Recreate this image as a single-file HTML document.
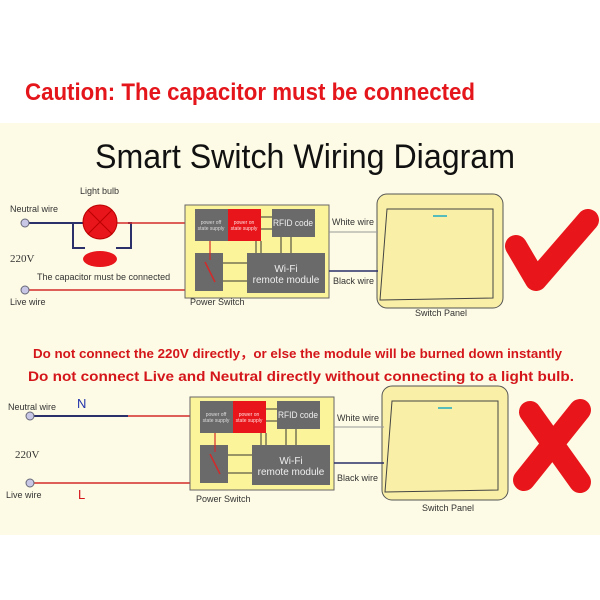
<!DOCTYPE html>
<html><head><meta charset="utf-8"><style>
html,body{margin:0;padding:0;background:#fff;}
svg{display:block;font-family:"Liberation Sans","Noto Sans CJK SC",sans-serif;}
</style></head><body>
<svg width="600" height="600" viewBox="0 0 600 600">
<rect x="0" y="0" width="600" height="600" fill="#fff"/>
<rect x="0" y="123" width="600" height="412" fill="#fdfbe5"/>
<text x="25" y="100" font-size="24" font-weight="bold" fill="#e4161b" textLength="450" lengthAdjust="spacingAndGlyphs">Caution: The capacitor must be connected</text>
<text x="95" y="168" font-size="34" fill="#111" textLength="420" lengthAdjust="spacingAndGlyphs">Smart Switch Wiring Diagram</text>

<g font-size="9" fill="#333">
<text x="10" y="212">Neutral wire</text>
<text x="80" y="194">Light bulb</text>
<text x="10" y="262" font-family="Liberation Serif,serif" font-size="11">220V</text>
<text x="37" y="280">The capacitor must be connected</text>
<text x="10" y="305">Live wire</text>
<text x="190" y="305">Power Switch</text>
<text x="332" y="225">White wire</text>
<text x="333" y="284">Black wire</text>
<text x="415" y="316">Switch Panel</text>
</g>
<line x1="25" y1="223" x2="84" y2="223" stroke="#2b2f6a" stroke-width="2"/>
<polyline points="73,223 73,248 85,248" fill="none" stroke="#2b2f6a" stroke-width="2"/>
<polyline points="128,223 131,223 131,248 116,248" fill="none" stroke="#2b2f6a" stroke-width="2"/>
<polyline points="116,223 189,223 189,262 207,262" fill="none" stroke="#d42a2a" stroke-width="1.5"/>
<polyline points="25,290 228,290 228,210" fill="none" stroke="#d42a2a" stroke-width="1.5"/>
<circle cx="25" cy="223" r="4" fill="#c8c8e6" stroke="#667"/>
<circle cx="25" cy="290" r="4" fill="#c8c8e6" stroke="#667"/>
<circle cx="100" cy="222" r="17" fill="#e8161b" stroke="#b00" />
<line x1="88" y1="210" x2="112" y2="234" stroke="#b00"/><line x1="112" y1="210" x2="88" y2="234" stroke="#b00"/>
<ellipse cx="100" cy="259" rx="17" ry="8" fill="#e8161b"/>
<g id="mod">
<rect x="185" y="205" width="144" height="93" fill="#fcf49a" stroke="#666"/>
<rect x="195" y="209" width="33" height="32" fill="#6a6a6a"/>
<rect x="228" y="209" width="33" height="32" fill="#e8161b"/>
<rect x="272" y="209" width="43" height="28" fill="#6a6a6a"/>
<rect x="195" y="253" width="28" height="38" fill="#6a6a6a"/>
<rect x="247" y="253" width="78" height="40" fill="#6a6a6a"/>
<text x="211" y="224" font-size="5" fill="#ddd" text-anchor="middle">power off</text>
<text x="211" y="230" font-size="5" fill="#ddd" text-anchor="middle">state supply</text>
<text x="244" y="224" font-size="5" fill="#fdd" text-anchor="middle">power on</text>
<text x="244" y="230" font-size="5" fill="#fdd" text-anchor="middle">state supply</text>
<text x="293" y="226" font-size="9" fill="#eee" text-anchor="middle" textLength="40" lengthAdjust="spacingAndGlyphs">RFID code</text>
<text x="286" y="272" font-size="10" fill="#eee" text-anchor="middle">Wi-Fi</text>
<text x="286" y="283" font-size="10" fill="#eee" text-anchor="middle">remote module</text>
<g stroke="#333" stroke-width="1">
<line x1="261" y1="217" x2="272" y2="217"/><line x1="261" y1="229" x2="272" y2="229"/>
<line x1="281" y1="237" x2="281" y2="253"/><line x1="291" y1="237" x2="291" y2="253"/>
<line x1="256" y1="241" x2="256" y2="253"/><line x1="261" y1="241" x2="261" y2="253"/>
<line x1="223" y1="263" x2="247" y2="263"/><line x1="223" y1="281" x2="247" y2="281"/>
</g>
<line x1="205" y1="262" x2="215" y2="282" stroke="#d42a2a" stroke-width="1.5"/>
<line x1="210" y1="241" x2="210" y2="260" stroke="#d42a2a" stroke-width="1.2"/>
<rect x="377" y="194" width="126" height="114" rx="10" fill="#f9efa7" stroke="#555"/>
<polygon points="387,209 493,209 493,298 380,300" fill="#f9efa7" stroke="#444"/>
<line x1="433" y1="216" x2="447" y2="216" stroke="#5bb" stroke-width="2"/>
</g>
<line x1="329" y1="232" x2="378" y2="232" stroke="#999" stroke-width="1"/>
<line x1="329" y1="271" x2="378" y2="271" stroke="#2b2f6a" stroke-width="1.5"/>
<path d="M516,246 L536,280 L588,220" fill="none" stroke="#e8161b" stroke-width="22" stroke-linecap="round" stroke-linejoin="round"/>

<text x="33" y="358" font-size="12.5" font-weight="bold" fill="#d4161b" textLength="529" lengthAdjust="spacingAndGlyphs">Do not connect the 220V directly，or else the module will be burned down instantly</text>
<text x="28" y="381" font-size="14" font-weight="bold" fill="#d4161b" textLength="546" lengthAdjust="spacingAndGlyphs">Do not connect Live and Neutral directly without connecting to a light bulb.</text>

<g font-size="9" fill="#333">
<text x="8" y="410">Neutral wire</text>
<text x="15" y="458" font-family="Liberation Serif,serif" font-size="11">220V</text>
<text x="6" y="498">Live wire</text>
<text x="196" y="502">Power Switch</text>
<text x="337" y="421">White wire</text>
<text x="337" y="481">Black wire</text>
<text x="422" y="511">Switch Panel</text>
</g>
<text x="77" y="408" font-size="13" fill="#2233aa">N</text>
<text x="78" y="499" font-size="13" fill="#d4161b">L</text>
<line x1="30" y1="416" x2="128" y2="416" stroke="#2b2f6a" stroke-width="2"/>
<polyline points="128,416 195,416 195,453 212,453" fill="none" stroke="#d42a2a" stroke-width="1.5"/>
<polyline points="30,483 233,483 233,400" fill="none" stroke="#d42a2a" stroke-width="1.5"/>
<circle cx="30" cy="416" r="4" fill="#c8c8e6" stroke="#667"/>
<circle cx="30" cy="483" r="4" fill="#c8c8e6" stroke="#667"/>
<use href="#mod" transform="translate(5,192)"/>
<line x1="334" y1="427" x2="384" y2="427" stroke="#999" stroke-width="1"/>
<line x1="334" y1="463" x2="384" y2="463" stroke="#2b2f6a" stroke-width="1.5"/>
<g stroke="#e8161b" stroke-width="22" stroke-linecap="round">
<line x1="530" y1="412" x2="580" y2="482"/>
<line x1="580" y1="410" x2="524" y2="480"/>
</g>
</svg>
</body></html>
